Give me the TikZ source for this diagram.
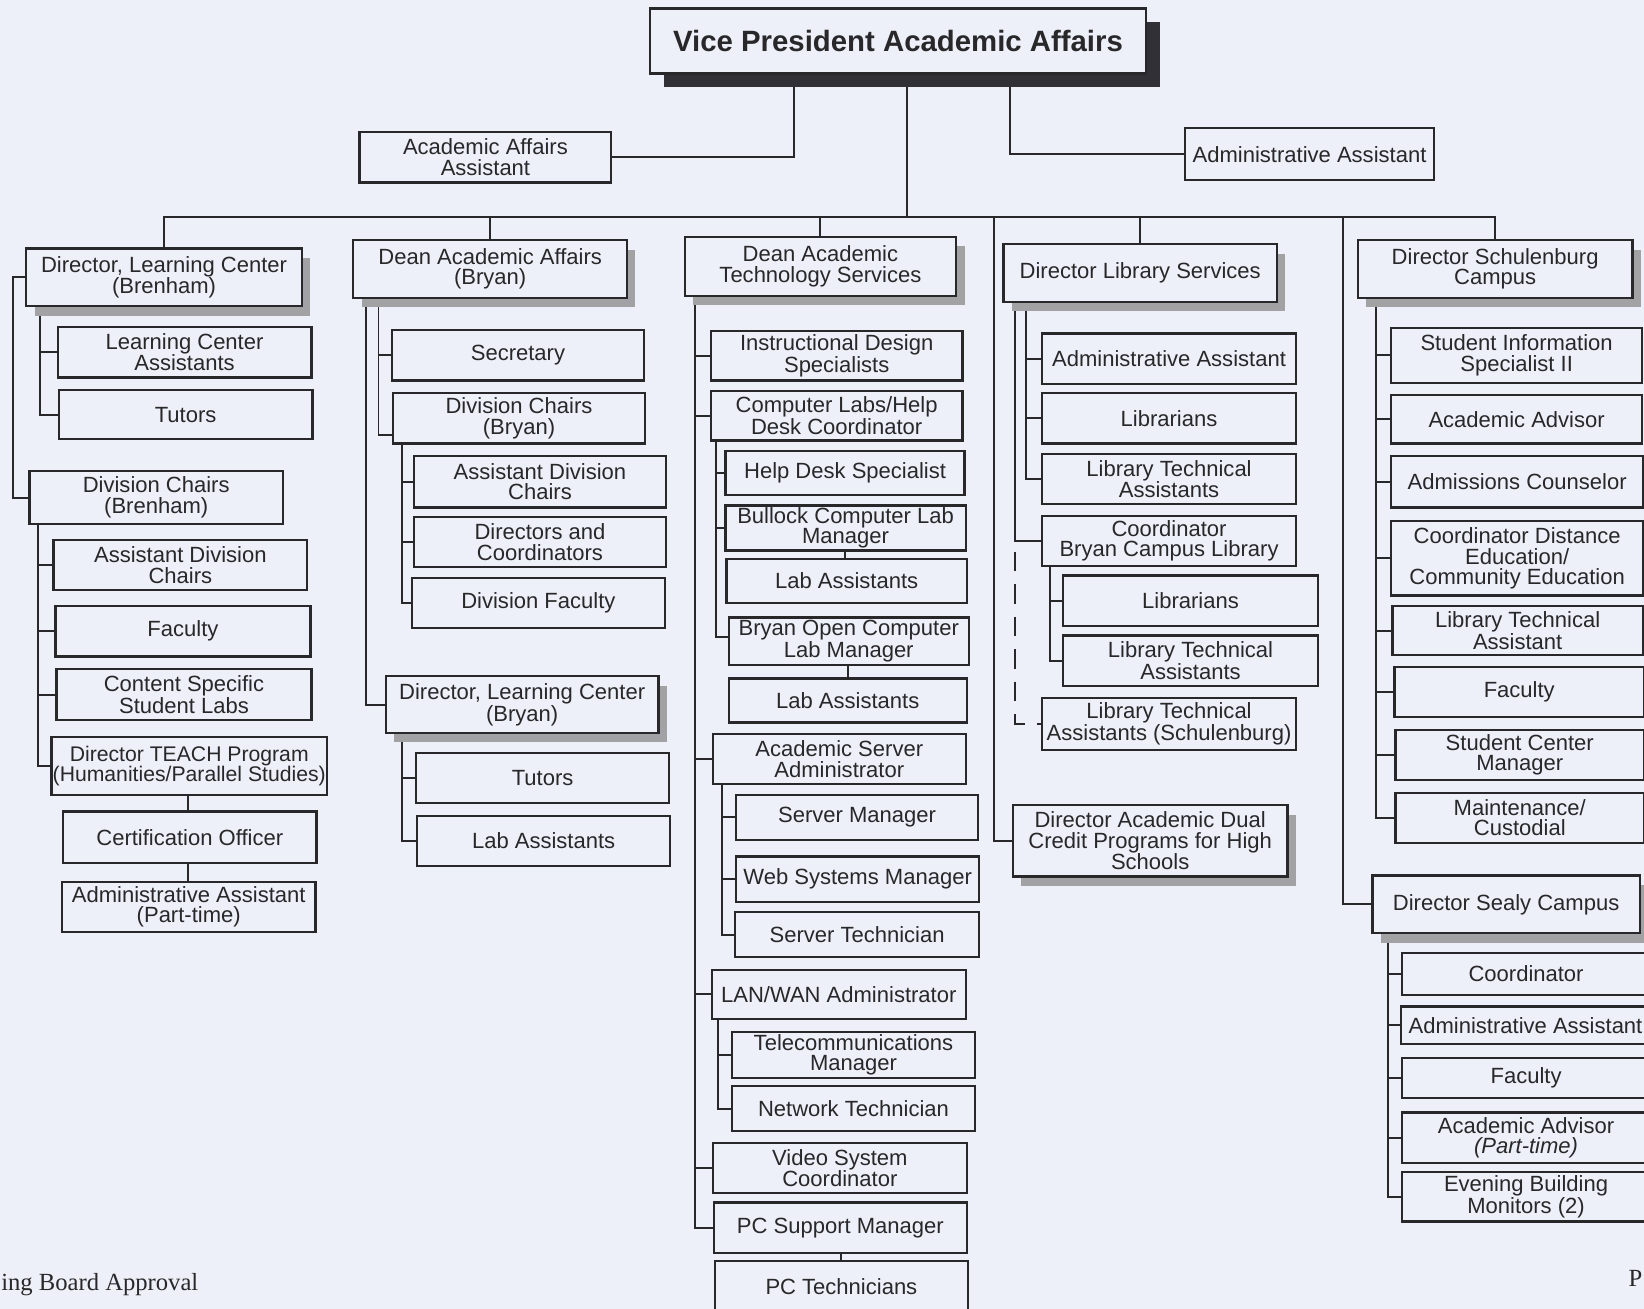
\documentclass[tikz,border=0pt]{standalone}
\usepackage{fontspec}
\setmainfont{Liberation Sans}
\newfontfamily\footfont{Liberation Serif}
\usetikzlibrary{shadows,calc}
\definecolor{bgc}{RGB}{237,240,248}
\definecolor{ink}{RGB}{40,40,42}
\definecolor{shd}{RGB}{162,162,165}
\definecolor{vpshd}{RGB}{48,48,54}
\pgfdeclarelayer{bgfill}\pgfdeclarelayer{lines}
\pgfsetlayers{bgfill,lines,main}
\newcommand\bx[7][]{%
 \pgfmathsetmacro\bxcx{(#3+#5)/2}%
 \pgfmathsetmacro\bxcy{(#4+#6)/2}%
 \pgfmathsetmacro\bxw{#5-#3}%
 \pgfmathsetmacro\bxh{#6-#4}%
 \node[obox,#1,minimum width=\bxw pt,minimum height=\bxh pt] (#2) at (\bxcx,\bxcy) {#7};}
\tikzset{
 obox/.style={draw=ink, line width=2.2pt, fill=bgc, inner sep=0pt, outer sep=0pt, align=center, text=ink, font=\fontsize{21}{19.5}\selectfont},
 dshadow/.style={drop shadow={fill=shd, opacity=1, shadow xshift=8pt, shadow yshift=-9pt}},
 vpshadow/.style={drop shadow={fill=vpshd, opacity=1, shadow xshift=13pt, shadow yshift=-13pt}},
 conn/.style={draw=ink, line width=1.9pt},
 tight/.style={font=\fontsize{21}{17.5}\selectfont},
}
\begin{document}
\begin{tikzpicture}[x=1pt,y=-1pt]
\useasboundingbox (0,0) rectangle (1568,1248);
\begin{pgfonlayer}{bgfill}
\fill[bgc] (0,0) rectangle (1568,1248);
\end{pgfonlayer}
% top
\bx[vpshadow,font=\fontsize{28}{30}\selectfont\bfseries]{vp}{620}{8}{1093}{70}{Vice President Academic Affairs}
\bx{aaa}{343}{126}{583}{174}{Academic Affairs\\Assistant}
\bx{aa2}{1130}{122}{1368}{172}{Administrative Assistant}
% level 1
\bx[dshadow]{dlcb}{25}{237}{288}{292}{Director, Learning Center\\(Brenham)}
\bx[dshadow]{daa}{337}{229}{598}{284}{Dean Academic Affairs\\(Bryan)}
\bx[dshadow]{dats}{653}{226}{912}{282}{Dean Academic\\Technology Services}
\bx[dshadow]{dlib}{957}{233}{1218}{288}{Director Library Services}
\bx[dshadow]{dsch}{1295}{229}{1557}{284}{Director Schulenburg\\Campus}
% column 1
\bx{lca}{55}{312}{297}{360}{Learning Center\\Assistants}
\bx{tut1}{56}{372}{298}{419}{Tutors}
\bx{dcb}{28}{449}{270}{500}{Division Chairs\\(Brenham)}
\bx{adc1}{51}{515}{293}{563}{Assistant Division\\Chairs}
\bx{fac1}{53}{578}{296}{626}{Faculty}
\bx{csl}{54}{638}{297}{687}{Content Specific\\Student Labs}
\bx[font=\fontsize{20.2}{19.5}\selectfont]{teach}{49}{703}{312}{758}{Director TEACH Program\\(Humanities/Parallel Studies)}
\bx{cert}{60}{774}{302}{823}{Certification Officer}
\bx{aapt}{59}{841}{301}{889}{Administrative Assistant\\(Part-time)}
% column 2
\bx{sec}{374}{315}{614}{363}{Secretary}
\bx{dcbr}{375}{375}{615}{423}{Division Chairs\\(Bryan)}
\bx{adc2}{395}{435}{635}{484}{Assistant Division\\Chairs}
\bx{dac}{395}{493}{635}{541}{Directors and\\Coordinators}
\bx{dfac}{393}{551}{634}{599}{Division Faculty}
\bx[dshadow]{dlcbr}{368}{645}{628}{699}{Director, Learning Center\\(Bryan)}
\bx{tut2}{397}{718}{638}{766}{Tutors}
\bx{lab2}{398}{778}{639}{826}{Lab Assistants}
% column 3
\bx{ids}{678}{316}{918}{363}{Instructional Design\\Specialists}
\bx{clhd}{678}{373}{918}{420}{Computer Labs/Help\\Desk Coordinator}
\bx{hds}{692}{430}{920}{472}{Help Desk Specialist}
\bx[tight]{bcl}{692}{482}{921}{525}{Bullock Computer Lab\\Manager}
\bx{la1}{693}{533}{922}{575}{Lab Assistants}
\bx[tight]{bocl}{695}{589}{924}{634}{Bryan Open Computer\\Lab Manager}
\bx{la2}{695}{647}{922}{689}{Lab Assistants}
\bx{asa}{680}{700}{921}{748}{Academic Server\\Administrator}
\bx{sm}{702}{758}{933}{801}{Server Manager}
\bx{wsm}{702}{817}{934}{860}{Web Systems Manager}
\bx{st}{701}{870}{934}{913}{Server Technician}
\bx{lan}{679}{925}{921}{972}{LAN/WAN Administrator}
\bx{tm}{698}{984}{930}{1028}{Telecommunications\\Manager}
\bx{nt}{698}{1036}{930}{1079}{Network Technician}
\bx{vsc}{680}{1090}{922}{1138}{Video System\\Coordinator}
\bx{pcs}{681}{1147}{922}{1195}{PC Support Manager}
\bx{pct}{682}{1203}{923}{1251}{PC Technicians}
% column 4
\bx{laa}{994}{318}{1236}{366}{Administrative Assistant}
\bx{lib1}{994}{375}{1236}{423}{Librarians}
\bx{lta1}{994}{433}{1236}{481}{Library Technical\\Assistants}
\bx{cbcl}{994}{492}{1236}{540}{Coordinator\\Bryan Campus Library}
\bx{lib2}{1014}{549}{1257}{597}{Librarians}
\bx{lta2}{1014}{606}{1257}{654}{Library Technical\\Assistants}
\bx{ltas}{994}{666}{1236}{715}{Library Technical\\Assistants (Schulenburg)}
\bx[dshadow]{ddc}{966}{768}{1228}{836}{Director Academic Dual\\Credit Programs for High\\Schools}
% column 5
\bx{sis}{1327}{313}{1566}{365}{Student Information\\Specialist II}
\bx{aadv}{1327}{377}{1566}{423}{Academic Advisor}
\bx{adm}{1327}{435}{1567}{484}{Admissions Counselor}
\bx{cde}{1327}{497}{1567}{568}{Coordinator Distance\\Education/\\Community Education}
\bx{lta3}{1328}{578}{1567}{625}{Library Technical\\Assistant}
\bx{fac3}{1330}{636}{1568}{684}{Faculty}
\bx{scm}{1331}{696}{1568}{744}{Student Center\\Manager}
\bx{mc}{1331}{756}{1568}{804}{Maintenance/\\Custodial}
\bx[dshadow]{dsea}{1309}{835}{1564}{890}{Director Sealy Campus}
\bx{coord}{1337}{909}{1574}{949}{Coordinator}
\bx{aa4}{1336}{960}{1574}{996}{Administrative Assistant}
\bx{fac4}{1337}{1009}{1574}{1047}{Faculty}
\bx{aadv2}{1337}{1061}{1574}{1109}{Academic Advisor\\\textit{(Part-time)}}
\bx{ebm}{1337}{1118}{1574}{1165}{Evening Building\\Monitors (2)}
% footer
\node[anchor=base west, font=\footfont\fontsize{23.5}{26}\selectfont, text=ink, inner sep=0pt] (foot) at (1,1231) {ing Board Approval};
\node[anchor=base west, font=\footfont\fontsize{23.5}{26}\selectfont, text=ink, inner sep=0pt] (pg) at (1553,1227) {P};
\coordinate (bus) at (865,207);
\begin{pgfonlayer}{lines}
\draw[conn] (757,0 |- vp.south) |- (aaa.east);
\draw[conn] (963,0 |- vp.south) |- (aa2.west);
\draw[conn] (865,0 |- vp.south) -- (bus);
\draw[conn] (dlcb.north) |- (bus) -| (dsch.north);
\draw[conn] (daa.north) -- (daa.north |- bus);
\draw[conn] (dats.north) -- (dats.north |- bus);
\draw[conn] (dlib.north) -- (dlib.north |- bus);
\draw[conn] (948,0 |- bus) |- (ddc.west);
\draw[conn] (1281,0 |- bus) |- (dsea.west);
% column 1
\draw[conn] (38,0 |- dlcb.south) |- (lca.west) (38,0 |- dlcb.south) |- (tut1.west);
\draw[conn] (dlcb.west) -- ++(-13,0) |- (dcb.west);
\draw[conn] (36,0 |- dcb.south) |- (adc1.west) (36,0 |- dcb.south) |- (fac1.west)
  (36,0 |- dcb.south) |- (csl.west) (36,0 |- dcb.south) |- (teach.west);
\draw[conn] (179,0 |- teach.south) -- (179,0 |- cert.north);
\draw[conn] (179,0 |- cert.south) -- (179,0 |- aapt.north);
% column 2
\draw[conn] (349,0 |- daa.south) |- (dlcbr.west);
\draw[conn] (361,0 |- daa.south) |- (sec.west) (361,0 |- daa.south) |- ($(dcbr.west)+(0,16)$);
\draw[conn] (383,0 |- dcbr.south) |- (adc2.west) (383,0 |- dcbr.south) |- (dac.west)
  (383,0 |- dcbr.south) |- (dfac.west);
\draw[conn] (383,0 |- dlcbr.south) |- (tut2.west) (383,0 |- dlcbr.south) |- (lab2.west);
% column 3
\draw[conn] (663,0 |- dats.south) |- (ids.west) (663,0 |- dats.south) |- (clhd.west)
  (663,0 |- dats.south) |- (asa.west) (663,0 |- dats.south) |- (lan.west)
  (663,0 |- dats.south) |- (vsc.west) (663,0 |- dats.south) |- (pcs.west);
\draw[conn] (683,0 |- clhd.south) |- (hds.west) (683,0 |- clhd.south) |- (bcl.west)
  (683,0 |- clhd.south) |- ($(bocl.west)+(0,-4)$);
\draw[conn] (806,0 |- bcl.south) -- (806,0 |- la1.north);
\draw[conn] (809,0 |- bocl.south) -- (809,0 |- la2.north);
\draw[conn] (689,0 |- asa.south) |- (sm.west) (689,0 |- asa.south) |- (wsm.west)
  (689,0 |- asa.south) |- (st.west);
\draw[conn] (685,0 |- lan.south) |- (tm.west) (685,0 |- lan.south) |- (nt.west);
\draw[conn] (802,0 |- pcs.south) -- (802,0 |- pct.north);
% column 4
\draw[conn] (979,0 |- dlib.south) |- (laa.west) (979,0 |- dlib.south) |- (lib1.west)
  (979,0 |- dlib.south) |- (lta1.west);
\draw[conn] (968,0 |- dlib.south) |- (cbcl.west);
\draw[conn, dash pattern=on 19pt off 12pt] ($(968,0 |- cbcl.west)+(0,10)$) |- (ltas.west);
\draw[conn] (1001.5,0 |- cbcl.south) |- (lib2.west) (1001.5,0 |- cbcl.south) |- (lta2.west);
% column 5
\draw[conn] (1312,0 |- dsch.south) |- (sis.west) (1312,0 |- dsch.south) |- (aadv.west)
  (1312,0 |- dsch.south) |- (adm.west) (1312,0 |- dsch.south) |- (cde.west)
  (1312,0 |- dsch.south) |- (lta3.west) (1312,0 |- dsch.south) |- (fac3.west)
  (1312,0 |- dsch.south) |- (scm.west) (1312,0 |- dsch.south) |- (mc.west);
\draw[conn] (1323.5,0 |- dsea.south) |- (coord.west) (1323.5,0 |- dsea.south) |- (aa4.west)
  (1323.5,0 |- dsea.south) |- (fac4.west) (1323.5,0 |- dsea.south) |- (aadv2.west)
  (1323.5,0 |- dsea.south) |- (ebm.west);
\end{pgfonlayer}
\end{tikzpicture}
\end{document}
